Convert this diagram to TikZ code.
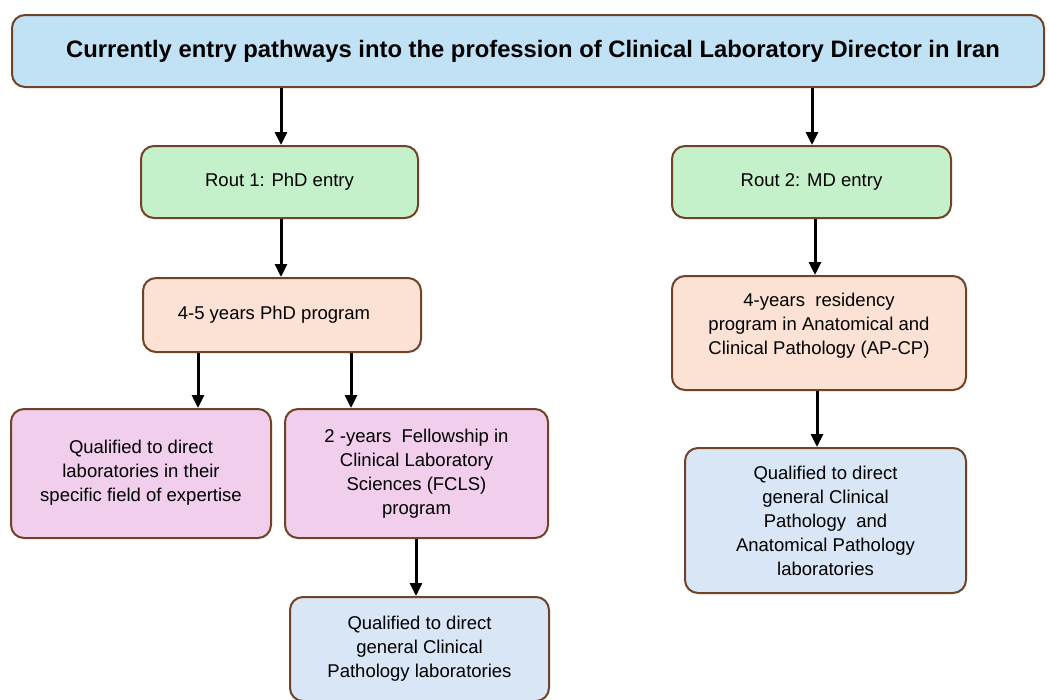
\documentclass[tikz,border=0pt]{standalone}
\usepackage{fontspec}
\setmainfont{Liberation Sans}
\usetikzlibrary{arrows.meta}
\definecolor{edge}{RGB}{112,66,40}
\definecolor{titleblue}{RGB}{193,226,245}
\definecolor{routgreen}{RGB}{196,240,202}
\definecolor{peach}{RGB}{251,226,212}
\definecolor{pink}{RGB}{240,206,236}
\definecolor{paleblue}{RGB}{216,230,245}

\begin{document}
\begin{tikzpicture}[x=1pt,y=-1pt,
    box/.style={draw=edge,line width=2pt,rounded corners=13pt,align=center,
        font=\fontsize{18.5}{24}\selectfont,inner sep=0pt},
    arr/.style={-{Triangle[length=13pt,width=12pt]},line width=3pt}]
    \useasboundingbox (0,0) rectangle (1049,699);
    % top
    \node[box,fill=titleblue,minimum width=1032pt,minimum height=72pt,
        font=\bfseries\fontsize{23.8}{26}\selectfont] (title) at (528,51)
        {\hspace*{10pt}Currently entry pathways into the profession of Clinical Laboratory Director in Iran};
    % route 1
    \node[box,fill=routgreen,minimum width=277pt,minimum height=72pt] (r1) at (279.5,182) {Rout 1: PhD entry};
    \node[box,fill=peach,minimum width=278pt,minimum height=74pt] (phd) at (282,315) {4-5 years PhD program\hspace*{16pt}};
    \node[box,fill=pink,minimum width=260pt,minimum height=129pt] (q1) at (141,473.5)
        {Qualified to direct\\laboratories in their\\specific field of expertise\\[-18pt]};
    \node[box,fill=pink,minimum width=263pt,minimum height=129pt] (fcls) at (416.5,473.5)
        {2 -years\ \ Fellowship in\\Clinical Laboratory\\Sciences (FCLS)\\program};
    \node[box,fill=paleblue,minimum width=259pt,minimum height=104pt] (q2) at (419.5,649)
        {Qualified to direct\\general Clinical\\Pathology laboratories};
    % route 2
    \node[box,fill=routgreen,minimum width=279pt,minimum height=72pt] (r2) at (811.5,182) {Rout 2: MD entry};
    \node[box,fill=peach,minimum width=294pt,minimum height=114pt] (res) at (819,333)
        {4-years\ \ residency\\program in Anatomical and\\Clinical Pathology (AP-CP)\\[-6pt]};
    \node[box,fill=paleblue,minimum width=281pt,minimum height=145pt] (q3) at (825.5,520.5)
        {Qualified to direct\\general Clinical\\Pathology\ \ and\\Anatomical Pathology\\laboratories};
    % arrows
    \draw[arr] (title.south -| 281,0) -- (r1.north -| 281,0);
    \draw[arr] (title.south -| 812,0) -- (r2.north -| 812,0);
    \draw[arr] (r1.south -| 281,0) -- (phd.north -| 281,0);
    \draw[arr] (phd.south -| 198,0) -- (q1.north -| 198,0);
    \draw[arr] (phd.south -| 351,0) -- (fcls.north -| 351,0);
    \draw[arr] (fcls.south -| 416,0) -- (q2.north -| 416,0);
    \draw[arr] (r2.south -| 815,0) -- (res.north -| 815,0);
    \draw[arr] (res.south -| 817,0) -- (q3.north -| 817,0);
\end{tikzpicture}
\end{document}
